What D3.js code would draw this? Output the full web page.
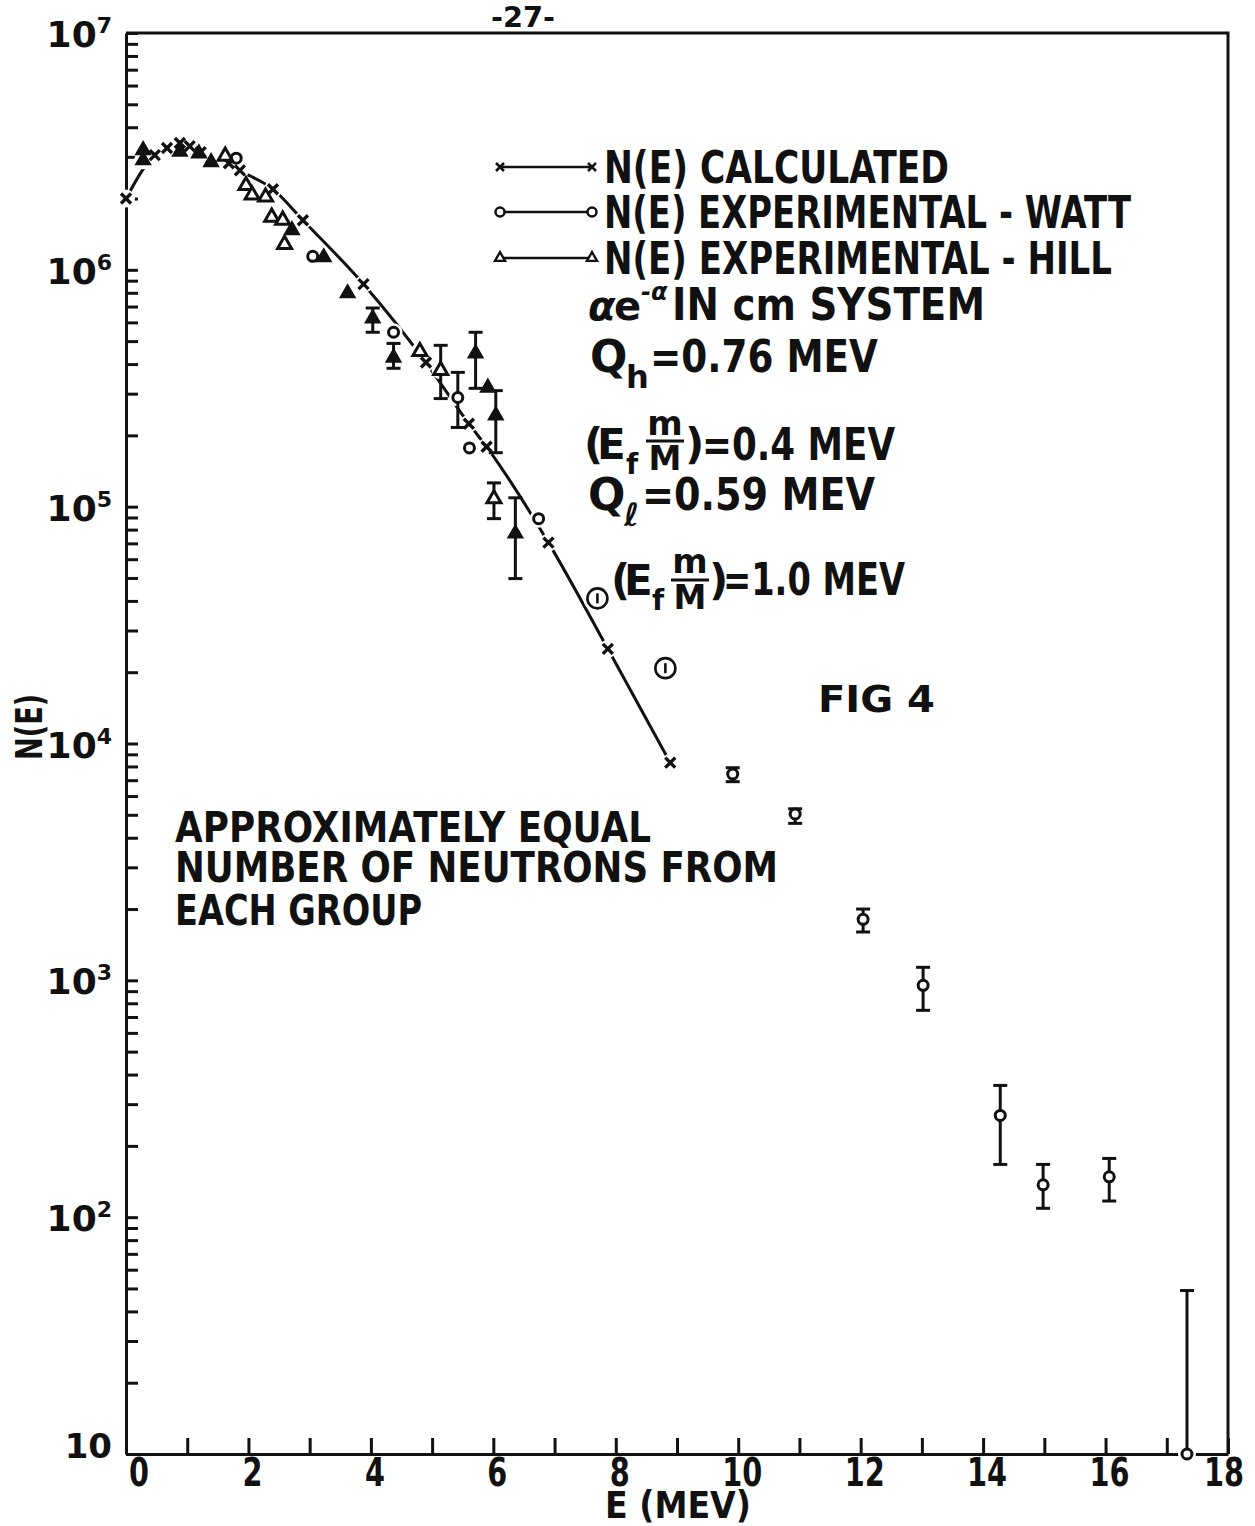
<!DOCTYPE html>
<html>
<head>
<meta charset="utf-8">
<script src="https://cdn.jsdelivr.net/npm/d3@7/dist/d3.min.js"></script>
<style>
body { margin: 0; background: #fff; }
text { font-family: "DejaVu Sans", sans-serif; fill: #111; font-weight: bold; }
.axis path, .axis line { stroke: #111; stroke-width: 3; }
</style>
</head>
<body>
<div class="chart"></div>
<script>
// N(E) calculated (x marks joined by the curve)
const calcE = [0, 0.47, 0.67, 0.88, 1.04, 1.22, 1.68, 1.86, 2.40, 2.89, 3.88, 4.90, 5.60, 5.89, 6.90, 7.87, 8.89];
const calcN = [2.0e6, 3.05e6, 3.27e6, 3.43e6, 3.33e6, 3.14e6, 2.82e6, 2.63e6, 2.19e6, 1.62e6, 8.7e5, 4.06e5, 2.24e5, 1.79e5, 7.05e4, 2.51e4, 8.3e3];

// experimental - Watt (open circles), error bar limits where drawn
const wattE  = [1.80, 3.05, 4.37, 5.42, 5.61, 6.74, 9.91, 10.93, 12.04, 13.02, 14.28, 14.98, 16.06, 17.33];
const wattN  = [2.96e6, 1.14e6, 5.45e5, 2.89e5, 1.77e5, 8.9e4, 7.43e3, 5.04e3, 1.81e3, 953, 269, 137, 148, 10];
const wattHi = [null, null, null, 3.69e5, null, null, 7.9e3, 5.3e3, 2.0e3, 1135, 360, 167, 177, 49];
const wattLo = [null, null, null, 2.16e5, null, null, 6.9e3, 4.6e3, 1.6e3, 747, 167, 109, 117, 10];

// experimental - Hill (triangles), open and inked-in
const hillOpenE  = [1.62, 1.96, 2.06, 2.28, 2.38, 2.56, 2.59, 4.80, 5.14, 6.01];
const hillOpenN  = [3.02e6, 2.27e6, 2.07e6, 2.03e6, 1.67e6, 1.62e6, 1.28e6, 4.52e5, 3.76e5, 1.08e5];
const hillOpenHi = [null, null, null, null, null, null, null, null, 4.8e5, 1.26e5];
const hillOpenLo = [null, null, null, null, null, null, null, null, 2.86e5, 8.9e4];

const hillSolidE  = [0.28, 0.28, 0.88, 1.19, 1.39, 2.71, 3.23, 3.62, 4.03, 4.37, 5.71, 5.91, 6.04, 6.36];
const hillSolidN  = [3.2e6, 2.9e6, 3.15e6, 3.1e6, 2.85e6, 1.47e6, 1.13e6, 7.96e5, 6.24e5, 4.26e5, 4.44e5, 3.18e5, 2.43e5, 7.7e4];
const hillSolidHi = [null, null, null, null, null, null, null, null, 6.9e5, 4.89e5, 5.45e5, null, 3.09e5, 1.09e5];
const hillSolidLo = [null, null, null, null, null, null, null, null, 5.45e5, 3.84e5, 3.16e5, null, 1.69e5, 4.97e4];

// circled "1" points, (E_f m/M) = 1.0 MEV
const altE = [7.70, 8.81];
const altN = [4.1e4, 2.08e4];

const xTickValues = d3.range(0, 19);
const xLabels = [0, 2, 4, 6, 8, 10, 12, 14, 16, 18];
const yDecades = [2, 3, 4, 5, 6, 7];

const rows = (E, N, hi, lo) => E.map((e, i) => ({e: e, n: N[i], hi: hi ? hi[i] : null, lo: lo ? lo[i] : null}));
const calc = rows(calcE, calcN);
const watt = rows(wattE, wattN, wattHi, wattLo);
const hillOpen = rows(hillOpenE, hillOpenN, hillOpenHi, hillOpenLo);
const hillSolid = rows(hillSolidE, hillSolidN, hillSolidHi, hillSolidLo);
const alt = rows(altE, altN);

const width = 1255, height = 1526;

const svg = d3.select('.chart').append('svg')
	.attr('width', width)
	.attr('height', height);

const xScale = d3.scaleLinear().domain([0, 18]).range([126, 1228]);
const yScale = d3.scaleLog().domain([10, 1e7]).range([1454, 33]);

const xAxis = d3.axisBottom(xScale)
	.tickValues(xTickValues)
	.tickSizeInner(-16)
	.tickSizeOuter(0)
	.tickFormat('');

const yAxis = d3.axisLeft(yScale)
	.tickValues(yScale.ticks())
	.tickSizeInner(-12)
	.tickSizeOuter(0)
	.tickFormat('');

svg.append('g')
	.attr('class', 'axis x-axis')
	.attr('transform', `translate(0, ${yScale(10)})`)
	.call(xAxis);

svg.append('g')
	.attr('class', 'axis y-axis')
	.attr('transform', `translate(${xScale(0)}, 0)`)
	.call(yAxis);

svg.selectAll('.axis .tick line').attr('stroke-width', 2.5);

// top and right border
svg.append('path')
	.attr('d', `M${xScale(0)},${yScale(1e7)}H${xScale(18)}V${yScale(10)}`)
	.attr('fill', 'none')
	.attr('stroke', '#111')
	.attr('stroke-width', 3);

// tick labels
svg.selectAll('.xlabel')
	.data(xLabels)
	.enter()
	.append('text')
	.attr('class', 'xlabel')
	.attr('x', d => xScale(d) + (d === 0 ? 13 : d === 18 ? -4 : 4))
	.attr('y', yScale(10) + 32)
	.attr('text-anchor', 'middle')
	.attr('font-size', 39)
	.attr('textLength', d => String(d).length * 20)
	.attr('lengthAdjust', 'spacingAndGlyphs')
	.text(d => d);

const ylab = svg.selectAll('.ylabel')
	.data(yDecades)
	.enter()
	.append('text')
	.attr('class', 'ylabel')
	.attr('x', xScale(0) - 14)
	.attr('y', d => yScale(Math.pow(10, d)) + 14)
	.attr('text-anchor', 'end')
	.attr('font-size', 36);
ylab.append('tspan').text('10');
ylab.append('tspan').attr('dy', -14).attr('font-size', 22).text(d => d);

svg.append('text')
	.attr('x', xScale(0) - 14)
	.attr('y', yScale(10) + 4)
	.attr('text-anchor', 'end')
	.attr('font-size', 34)
	.text('10');

svg.append('text')
	.attr('transform', `translate(42, ${(yScale(1e4) + yScale(1e3)) / 2 - 135}) rotate(-90)`)
	.attr('text-anchor', 'middle')
	.attr('font-size', 38)
	.attr('textLength', 66)
	.attr('lengthAdjust', 'spacingAndGlyphs')
	.text('N(E)');

svg.append('text')
	.attr('x', 678)
	.attr('y', 1518)
	.attr('text-anchor', 'middle')
	.attr('font-size', 37)
	.attr('textLength', 146)
	.attr('lengthAdjust', 'spacingAndGlyphs')
	.text('E (MEV)');

svg.append('text')
	.attr('x', 523)
	.attr('y', 27)
	.attr('text-anchor', 'middle')
	.attr('font-size', 28)
	.attr('textLength', 64)
	.attr('lengthAdjust', 'spacingAndGlyphs')
	.text('-27-');

// calculated curve
const line = d3.line()
	.x(d => xScale(d.e))
	.y(d => yScale(d.n))
	.curve(d3.curveMonotoneX);

svg.append('path')
	.datum(calc)
	.attr('d', line)
	.attr('fill', 'none')
	.attr('stroke', '#111')
	.attr('stroke-width', 3);

// white gaps in the curve round every mark
const allPts = calc.concat(watt, hillOpen, hillSolid, alt);
svg.append('g')
	.selectAll('circle')
	.data(allPts)
	.enter()
	.append('circle')
	.attr('cx', d => xScale(d.e))
	.attr('cy', d => yScale(d.n))
	.attr('r', d => alt.includes(d) ? 14 : 9)
	.attr('fill', '#fff');

// error bars
const barPts = watt.concat(hillOpen, hillSolid).filter(d => d.hi !== null);
const bars = svg.append('g')
	.attr('stroke', '#111')
	.attr('stroke-width', 3)
	.selectAll('g')
	.data(barPts)
	.enter()
	.append('g');
bars.append('line')
	.attr('x1', d => xScale(d.e)).attr('x2', d => xScale(d.e))
	.attr('y1', d => yScale(d.hi)).attr('y2', d => yScale(d.lo));
bars.append('line')
	.attr('x1', d => xScale(d.e) - 7).attr('x2', d => xScale(d.e) + 7)
	.attr('y1', d => yScale(d.hi)).attr('y2', d => yScale(d.hi));
bars.filter(d => d.lo > 10).append('line')
	.attr('x1', d => xScale(d.e) - 7).attr('x2', d => xScale(d.e) + 7)
	.attr('y1', d => yScale(d.lo)).attr('y2', d => yScale(d.lo));

const crossPath = 'M-5,-5L5,5M-5,5L5,-5';
const tri = d3.symbol().type(d3.symbolTriangle).size(85)();

svg.append('g')
	.selectAll('path')
	.data(calc)
	.enter()
	.append('path')
	.attr('transform', d => `translate(${xScale(d.e)},${yScale(d.n)})`)
	.attr('d', crossPath)
	.attr('stroke', '#111')
	.attr('stroke-width', 3.4);

svg.append('g')
	.selectAll('circle')
	.data(watt)
	.enter()
	.append('circle')
	.attr('cx', d => xScale(d.e))
	.attr('cy', d => yScale(d.n))
	.attr('r', 5)
	.attr('fill', '#fff')
	.attr('stroke', '#111')
	.attr('stroke-width', 3);

svg.append('g')
	.selectAll('path')
	.data(hillOpen)
	.enter()
	.append('path')
	.attr('transform', d => `translate(${xScale(d.e)},${yScale(d.n)})`)
	.attr('d', tri)
	.attr('fill', '#fff')
	.attr('stroke', '#111')
	.attr('stroke-width', 3);

svg.append('g')
	.selectAll('path')
	.data(hillSolid)
	.enter()
	.append('path')
	.attr('transform', d => `translate(${xScale(d.e)},${yScale(d.n)})`)
	.attr('d', tri)
	.attr('fill', '#111')
	.attr('stroke', '#111')
	.attr('stroke-width', 2);

const altG = svg.append('g')
	.selectAll('g')
	.data(alt)
	.enter()
	.append('g')
	.attr('transform', d => `translate(${xScale(d.e)},${yScale(d.n)})`)
	.attr('stroke', '#111')
	.attr('stroke-width', 2.6)
	.attr('fill', 'none');
altG.append('circle').attr('r', 10);
altG.append('line').attr('y1', -5).attr('y2', 5);

// legend
const legend = [
	{y: 167, kind: 'cross', text: 'N(E) CALCULATED', len: 345},
	{y: 212, kind: 'circle', text: 'N(E) EXPERIMENTAL - WATT', len: 527},
	{y: 258, kind: 'tri', text: 'N(E) EXPERIMENTAL - HILL', len: 508}
];
legend.forEach(l => {
	svg.append('line')
		.attr('x1', 502).attr('x2', 590)
		.attr('y1', l.y).attr('y2', l.y)
		.attr('stroke', '#111').attr('stroke-width', 2.5);
	[500, 592].forEach(x => {
		const g = svg.append('g').attr('transform', `translate(${x},${l.y})`);
		if (l.kind === 'cross') {
			g.append('path').attr('d', 'M-4,-4L4,4M-4,4L4,-4').attr('stroke', '#111').attr('stroke-width', 2.5);
		} else if (l.kind === 'circle') {
			g.append('circle').attr('r', 4.5).attr('fill', '#fff').attr('stroke', '#111').attr('stroke-width', 2.5);
		} else {
			g.append('path').attr('d', d3.symbol().type(d3.symbolTriangle).size(45)()).attr('fill', '#fff').attr('stroke', '#111').attr('stroke-width', 2.3);
		}
	});
	svg.append('text')
		.attr('x', 604).attr('y', l.y + 16)
		.attr('font-size', 44)
		.attr('textLength', l.len)
		.attr('lengthAdjust', 'spacingAndGlyphs')
		.text(l.text);
});

function label(x, y, str, size, len, extra) {
	const t = svg.append('text')
		.attr('x', x).attr('y', y)
		.attr('font-size', size)
		.text(str);
	if (len) t.attr('textLength', len).attr('lengthAdjust', 'spacingAndGlyphs');
	if (extra) extra(t);
	return t;
}

// a e^-a IN cm SYSTEM
label(588, 320, 'α', 40, null, t => t.attr('font-style', 'italic'));
label(614, 320, 'e', 40);
label(641, 300, '-α', 24, null, t => t.attr('font-style', 'italic'));
label(672, 320, 'IN cm SYSTEM', 44, 313);

// Q_h = 0.76 MEV
label(590, 372, 'Q', 44);
label(626, 388, 'h', 32);
label(650, 372, '=0.76 MEV', 44, 228);

// (E_f m/M) = 0.4 MEV
label(584, 459, '(', 42);
label(597, 459, 'E', 42);
label(626, 474, 'f', 28);
label(665, 435, 'm', 34, null, t => t.attr('text-anchor', 'middle'));
svg.append('line').attr('x1', 646).attr('x2', 684).attr('y1', 441).attr('y2', 441).attr('stroke', '#111').attr('stroke-width', 3);
label(665, 470, 'M', 33, null, t => t.attr('text-anchor', 'middle'));
label(685, 459, ')', 42);
label(702, 460, '=0.4 MEV', 44, 193);

// Q_l = 0.59 MEV
label(588, 510, 'Q', 44);
label(624, 526, 'ℓ', 32, null, t => t.attr('font-style', 'italic'));
label(642, 510, '=0.59 MEV', 44, 233);

// (E_f m/M) = 1.0 MEV
label(611, 595, '(', 42);
label(624, 595, 'E', 42);
label(652, 610, 'f', 28);
label(690, 573, 'm', 34, null, t => t.attr('text-anchor', 'middle'));
svg.append('line').attr('x1', 671).attr('x2', 709).attr('y1', 580).attr('y2', 580).attr('stroke', '#111').attr('stroke-width', 3);
label(690, 609, 'M', 33, null, t => t.attr('text-anchor', 'middle'));
label(709, 595, ')', 42);
label(723, 595, '=1.0 MEV', 44, 182);

label(818, 712, 'FIG  4', 38, 117);

label(175, 842, 'APPROXIMATELY  EQUAL', 42, 476);
label(175, 882, 'NUMBER OF NEUTRONS FROM', 42, 603);
label(175, 925, 'EACH  GROUP', 42, 247);
</script>
</body>
</html>
